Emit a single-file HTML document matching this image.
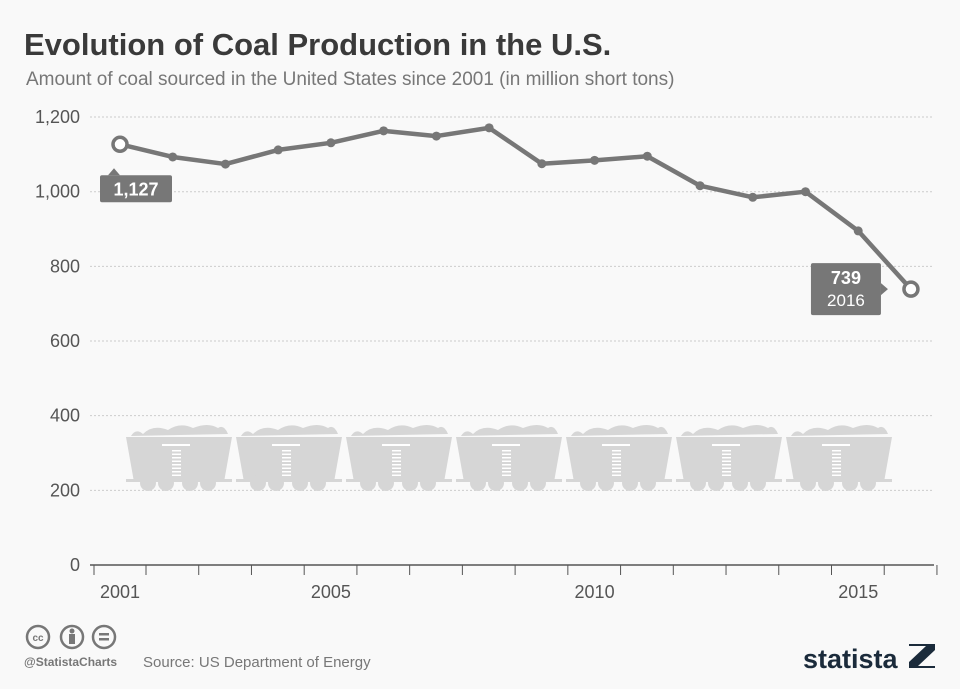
<!DOCTYPE html>
<html><head><meta charset="utf-8"><style>
body{margin:0;background:#f9f9f9;width:960px;height:684px;overflow:hidden;font-family:"Liberation Sans",sans-serif}
</style></head><body>
<svg id="c" width="960" height="684" xmlns="http://www.w3.org/2000/svg">
<text x="24" y="55" font-size="31" font-weight="bold" fill="#3a3a3a">Evolution of Coal Production in the U.S.</text>
<text x="26" y="85" font-size="19" fill="#777">Amount of coal sourced in the United States since 2001 (in million short tons)</text>
<g id="grid"></g><g id="carts"></g><g id="series"></g>
<g>
<circle cx="38" cy="637" r="11" fill="none" stroke="#777" stroke-width="2.5"/><text x="38" y="641" font-size="10" font-weight="bold" fill="#777" text-anchor="middle">cc</text>
<circle cx="72" cy="637" r="11" fill="none" stroke="#777" stroke-width="2.5"/><circle cx="72" cy="631" r="2.5" fill="#777"/><rect x="69" y="634" width="6" height="10" fill="#777"/>
<circle cx="104" cy="637" r="11" fill="none" stroke="#777" stroke-width="2.5"/><rect x="99" y="633" width="10" height="2.5" fill="#777"/><rect x="99" y="638" width="10" height="2.5" fill="#777"/>
<text x="24" y="666" font-size="12" font-weight="bold" fill="#777">@StatistaCharts</text>
<text x="143" y="667" font-size="15" fill="#777">Source: US Department of Energy</text>
<text x="803" y="668" font-size="27" font-weight="bold" fill="#1b2b3b">statista</text>
<polygon points="909,644 935,644 935,650 918,666 935,666 935,668 909,668 909,662 926,646 909,646" fill="#1b2b3b"/>
</g>
</svg>
<script>
const years=[2001,2002,2003,2004,2005,2006,2007,2008,2009,2010,2011,2012,2013,2014,2015,2016];
const values=[1127,1093,1074,1112,1131,1163,1149,1171,1075,1084,1095,1016,985,1000,895,739];
const yTicks=[0,200,400,600,800,1000,1200];
const xLabels=[2001,2005,2010,2015];
const NS="http://www.w3.org/2000/svg";
const X=y=>120+(y-2001)*52.73, Y=v=>565-v*0.3733;
function mk(t,a,p){const e=document.createElementNS(NS,t);for(const k in a)e.setAttribute(k,a[k]);p.appendChild(e);return e;}
const grid=document.getElementById('grid');
yTicks.forEach(v=>{
 if(v>0){const l=mk('line',{x1:90,x2:934,y1:Y(v),y2:Y(v),stroke:'#ccc','stroke-dasharray':'2,2'},grid);
 
 }
 const t=mk('text',{x:80,y:Y(v)+6,'font-size':18,fill:'#555','text-anchor':'end'},grid);t.textContent=v.toLocaleString('en-US');
 
 
});
const ax=mk('line',{x1:90,x2:934,y1:565,y2:565,stroke:'#555','stroke-width':1.5},grid);


years.forEach(y=>{const tk=mk('line',{x1:X(y)+26,x2:X(y)+26,y1:565,y2:575,stroke:'#555'},grid);
 
 });
mk('line',{x1:94,x2:94,y1:565,y2:575,stroke:'#555'},grid);
xLabels.forEach(y=>{const t=mk('text',{x:X(y),y:598,'font-size':18,fill:'#555','text-anchor':'middle'},grid);t.textContent=y;
 
 });
const carts=document.getElementById('carts');
for(let i=0;i<7;i++){const x=126+i*110;const g=mk('g',{fill:'#d6d6d6'},carts);
 
 
 mk('path',{d:`M${x+5} 436 q5-8 12-2 q10-10 25-4 q12-8 25-2 q15-6 25 0 q6-4 10 6 z`},g);
 mk('path',{d:`M${x} 437 h106 l-8 45 h-90 z`},g);
 mk('rect',{x:x,y:479,width:106,height:3},g);
 [22,40,64,82].forEach(d=>mk('circle',{cx:x+d,cy:483,r:8},g));
 mk('rect',{x:x+36,y:444,width:28,height:2,fill:'#fff'},g);
 for(let k=0;k<8;k++)mk('rect',{x:x+46,y:450+k*3.5,width:9,height:1.5,fill:'#fff'},g);
}
const s=document.getElementById('series');
const pl=mk('polyline',{points:years.map((y,i)=>X(y)+','+Y(values[i])).join(' '),fill:'none',stroke:'#777','stroke-width':4.5,'stroke-linejoin':'round'},s);


years.forEach((y,i)=>{const end=i==0||i==years.length-1;
 const c=mk('circle',{cx:X(y),cy:Y(values[i]),r:end?7:4.5,fill:end?'#fff':'#777',stroke:'#777','stroke-width':end?3.5:0},s);
 
 });
const x0=X(years[0]),y0=Y(values[0]);
const l1=mk('g',{},s);


mk('rect',{x:x0-20,y:y0+31,width:72,height:27,rx:2,fill:'#777'},l1);
mk('path',{d:`M${x0-12} ${y0+31} l6-7 l6 7z`,fill:'#777'},l1);
const t1=mk('text',{x:x0+16,y:y0+51,'font-size':18,'font-weight':'bold',fill:'#fff','text-anchor':'middle'},l1);t1.textContent=values[0].toLocaleString('en-US');
const xn=X(years[15]),yn=Y(values[15]);
const l2=mk('g',{},s);


mk('rect',{x:xn-100,y:yn-26,width:70,height:52,rx:2,fill:'#777'},l2);
mk('path',{d:`M${xn-30} ${yn-6} l7 6 l-7 6z`,fill:'#777'},l2);
const t2=mk('text',{x:xn-65,y:yn-5,'font-size':18,'font-weight':'bold',fill:'#fff','text-anchor':'middle'},l2);t2.textContent=values[15];
const t3=mk('text',{x:xn-65,y:yn+17,'font-size':17,fill:'#fff','text-anchor':'middle'},l2);t3.textContent=years[15];
</script>
</body></html>
